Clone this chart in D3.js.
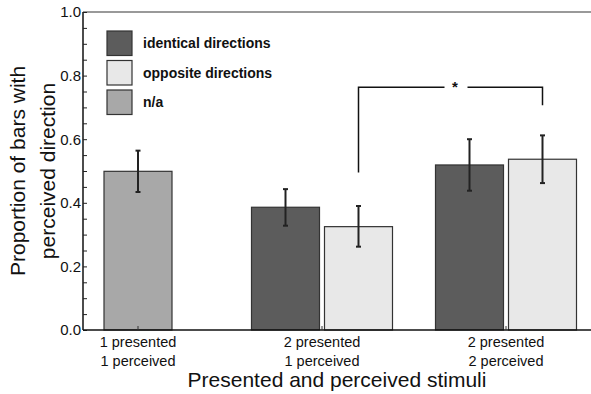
<!DOCTYPE html>
<html><head><meta charset="utf-8">
<script src="https://cdn.jsdelivr.net/npm/d3@7"></script>
<style>body{margin:0;background:#fff}svg{display:block;font-family:"Liberation Sans",Arial,Helvetica,sans-serif}</style>
</head><body>
<script>
const categories = [["1 presented","1 perceived"],["2 presented","1 perceived"],["2 presented","2 perceived"]];
const seriesNames = ["identical directions","opposite directions","n/a"];
const seriesColors = ["#5c5c5c","#e8e8e8","#a8a8a8"];
// bars: category index, series index, value, error low, error high
const barCat   = [0, 1, 1, 2, 2];
const barSer   = [2, 0, 1, 0, 1];
const barVal   = [0.499, 0.386, 0.325, 0.519, 0.537];
const barLow   = [0.434, 0.328, 0.262, 0.438, 0.462];
const barHigh  = [0.564, 0.443, 0.390, 0.600, 0.612];
const yTicks = [0.0, 0.2, 0.4, 0.6, 0.8, 1.0];
const sigPair = [2, 4]; // bracket between these bars
const sigLeftY = 0.495, sigTopY = 0.763, sigRightY = 0.707;

const W = 591, H = 394;
const svg = d3.select("body").append("svg").attr("width", W).attr("height", H);
const x0 = 83, x1 = 591, yTop = 12, yBot = 330;
const y = d3.scaleLinear().domain([0,1]).range([yBot, yTop]);
const x = d3.scaleLinear().domain([0,2]).range([138, 506]);
const bw = 68, gap = 5;

function barX(i){
  const c = x(barCat[i]);
  const n = barCat.filter(v=>v===barCat[i]).length;
  if (n===1) return c - bw/2;
  const k = barCat.slice(0,i).filter(v=>v===barCat[i]).length;
  return k===0 ? c - gap/2 - bw : c + gap/2;
}

// top border
svg.append("line").attr("x1",x0).attr("x2",x1).attr("y1",yTop).attr("y2",yTop)
  .attr("stroke","#777").attr("stroke-width",1.5);

// bars
const idx = d3.range(barVal.length);
svg.selectAll("rect.bar").data(idx).join("rect")
  .attr("x", i=>barX(i)).attr("width", bw)
  .attr("y", i=>y(barVal[i])).attr("height", i=>yBot - y(barVal[i]))
  .attr("fill", i=>seriesColors[barSer[i]]).attr("stroke","#333").attr("stroke-width",1.2);

// error bars
const eg = svg.selectAll("g.err").data(idx).join("g");
eg.append("line").attr("x1",i=>barX(i)+bw/2).attr("x2",i=>barX(i)+bw/2)
  .attr("y1",i=>y(barLow[i])).attr("y2",i=>y(barHigh[i])).attr("stroke","#222").attr("stroke-width",2);
eg.append("line").attr("x1",i=>barX(i)+bw/2-2.5).attr("x2",i=>barX(i)+bw/2+2.5)
  .attr("y1",i=>y(barLow[i])).attr("y2",i=>y(barLow[i])).attr("stroke","#222").attr("stroke-width",2);
eg.append("line").attr("x1",i=>barX(i)+bw/2-2.5).attr("x2",i=>barX(i)+bw/2+2.5)
  .attr("y1",i=>y(barHigh[i])).attr("y2",i=>y(barHigh[i])).attr("stroke","#222").attr("stroke-width",2);

// y axis
const yAxis = d3.axisLeft(y).tickValues(d3.range(0,1.0001,0.05)).tickSize(-4)
  .tickFormat(d => yTicks.some(t=>Math.abs(t-d)<1e-6) ? d3.format(".1f")(d) : "");
const ya = svg.append("g").attr("transform",`translate(${x0},0)`).call(yAxis);
ya.select(".domain").attr("stroke","#111").attr("stroke-width",1.5).attr("d",`M0,${yTop}V${yBot}`);
ya.selectAll(".tick line").attr("stroke","#222");
ya.selectAll(".tick text").attr("x",-2).attr("font-size",15).attr("fill","#111")
  .attr("font-family","Liberation Sans, Arial, sans-serif");

// x axis baseline + ticks
svg.append("line").attr("x1",x0).attr("x2",x1).attr("y1",yBot).attr("y2",yBot)
  .attr("stroke","#111").attr("stroke-width",1.5);
svg.selectAll("line.xt").data(d3.range(categories.length)).join("line")
  .attr("x1",d=>x(d)).attr("x2",d=>x(d)).attr("y1",yBot).attr("y2",yBot-4)
  .attr("stroke","#333").attr("stroke-width",1);
const xl = svg.selectAll("text.xl").data(d3.range(categories.length)).join("text")
  .attr("x",d=>x(d)).attr("text-anchor","middle").attr("font-size",14.5).attr("fill","#111");
xl.append("tspan").attr("x",d=>x(d)).attr("y",347).text(d=>categories[d][0]);
xl.append("tspan").attr("x",d=>x(d)).attr("y",366).text(d=>categories[d][1]);

// axis titles
svg.append("text").attr("x",(x0+x1)/2).attr("y",387).attr("text-anchor","middle")
  .attr("font-size",21).attr("fill","#111").text("Presented and perceived stimuli");
const yt = svg.append("text").attr("transform",`translate(0,171) rotate(-90)`)
  .attr("text-anchor","middle").attr("font-size",21).attr("fill","#111");
yt.append("tspan").attr("x",0).attr("y",25).text("Proportion of bars with");
yt.append("tspan").attr("x",0).attr("y",55).text("perceived direction");

// legend
const lg = svg.selectAll("g.lg").data(d3.range(seriesNames.length)).join("g")
  .attr("transform",d=>`translate(107,${31+d*29.5})`);
lg.append("rect").attr("width",25).attr("height",24.5).attr("fill",d=>seriesColors[d])
  .attr("stroke","#333").attr("stroke-width",1.2);
lg.append("text").attr("x",36).attr("y",17).attr("font-size",14).attr("font-weight","bold")
  .attr("fill","#111").text(d=>seriesNames[d]);

// significance bracket
const bxL = barX(sigPair[0])+bw/2, bxR = barX(sigPair[1])+bw/2;
const starX = (bxL+bxR)/2 + 4.5;
svg.append("path").attr("fill","none").attr("stroke","#111").attr("stroke-width",1.5)
  .attr("d",`M${bxL},${y(sigLeftY)}V${y(sigTopY)}H${starX-10.5}M${starX+12.5},${y(sigTopY)}H${bxR}V${y(sigRightY)}`);
svg.append("text").attr("x",starX).attr("y",y(sigTopY)+5).attr("text-anchor","middle")
  .attr("font-size",15).attr("font-weight","bold").attr("fill","#111").text("*");
</script>
</body></html>
